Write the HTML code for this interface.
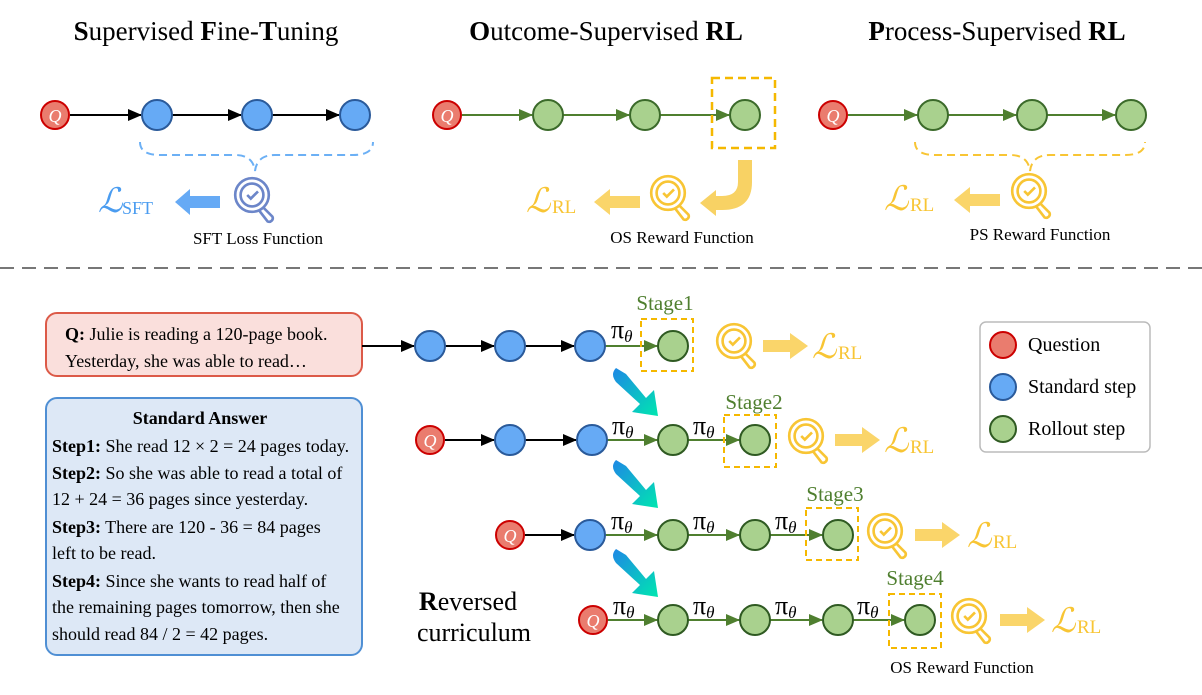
<!DOCTYPE html>
<html><head><meta charset="utf-8"><style>
html,body{margin:0;padding:0;background:#fff}
svg{display:block}
text{font-family:"Liberation Serif",serif}
</style></head><body>
<svg width="1202" height="695" viewBox="0 0 1202 695" xmlns="http://www.w3.org/2000/svg">
<defs>
<marker id="ab" markerWidth="14" markerHeight="12" refX="13" refY="6" orient="auto" markerUnits="userSpaceOnUse"><path d="M0,0 L14,6 L0,12 z" fill="#000"/></marker>
<marker id="ag" markerWidth="14" markerHeight="12" refX="13" refY="6" orient="auto" markerUnits="userSpaceOnUse"><path d="M0,0 L14,6 L0,12 z" fill="#4f7f2f"/></marker>
<linearGradient id="gr" x1="0" y1="0" x2="1" y2="1"><stop offset="0" stop-color="#1e88e5"/><stop offset="1" stop-color="#00e6b0"/></linearGradient>
<g id="magY" fill="none" stroke="#f8c534" stroke-width="2.2" transform="scale(1.2)"><circle cx="0" cy="0" r="14"/><circle cx="0" cy="0" r="9.5"/><path d="M-4,0 L-1,3 L5,-3"/><path d="M9,10 L17,18 a3,3 0 0 1 -4,4 L6,13"/></g>
<g id="magB" fill="none" stroke="#6c86c9" stroke-width="2.2" transform="scale(1.2)"><circle cx="0" cy="0" r="14"/><circle cx="0" cy="0" r="9.5"/><path d="M-4,0 L-1,3 L5,-3"/><path d="M9,10 L17,18 a3,3 0 0 1 -4,4 L6,13"/></g>
<path id="ga" d="M-14,-12 q-6,6 0,14 L10,24 L2,32 L28,36 L24,10 L16,18 L-4,-6 z" fill="url(#gr)"/>
</defs>

<text x="206" y="40" font-size="27" text-anchor="middle"><tspan font-weight="bold">S</tspan>upervised <tspan font-weight="bold">F</tspan>ine-<tspan font-weight="bold">T</tspan>uning</text>
<text x="606" y="40" font-size="27" text-anchor="middle"><tspan font-weight="bold">O</tspan>utcome-Supervised <tspan font-weight="bold">RL</tspan></text>
<text x="997" y="40" font-size="27" text-anchor="middle"><tspan font-weight="bold">P</tspan>rocess-Supervised <tspan font-weight="bold">RL</tspan></text>

<g stroke="#000" stroke-width="2" marker-end="url(#ab)">
<line x1="70" y1="115" x2="141" y2="115"/><line x1="172" y1="115" x2="241" y2="115"/><line x1="272" y1="115" x2="339" y2="115"/>
</g>
<circle cx="55" cy="115" r="14" fill="#ea7c6e" stroke="#cc0000" stroke-width="2"/>
<text x="55" y="122" font-size="18" font-style="italic" fill="#fff" text-anchor="middle">Q</text>
<g fill="#66aaf5" stroke="#2a5a9a" stroke-width="2"><circle cx="157" cy="115" r="15"/><circle cx="257" cy="115" r="15"/><circle cx="355" cy="115" r="15"/></g>
<path d="M140,142 q0,13 20,13 L235,155 q18,0 20,16 q2,-16 20,-16 L353,155 q20,0 20,-13" fill="none" stroke="#6cb0f5" stroke-width="2" stroke-dasharray="8,5"/>
<use href="#magB" x="252" y="195"/>
<path d="M220,196 L190,196 L190,189 L175,202 L190,215 L190,208 L220,208 z" fill="#66aaf5"/>
<text x="98" y="212" font-size="34" font-style="italic" fill="#4a9cf0">ℒ</text><text x="122" y="214" font-size="18" fill="#4a9cf0">SFT</text>
<text x="258" y="244" font-size="17" text-anchor="middle">SFT Loss Function</text>

<g stroke="#4f7f2f" stroke-width="2" marker-end="url(#ag)">
<line x1="462" y1="115" x2="532" y2="115"/><line x1="563" y1="115" x2="629" y2="115"/><line x1="660" y1="115" x2="729" y2="115"/>
</g>
<circle cx="447" cy="115" r="14" fill="#ea7c6e" stroke="#cc0000" stroke-width="2"/>
<text x="447" y="122" font-size="18" font-style="italic" fill="#fff" text-anchor="middle">Q</text>
<g fill="#a9d18e" stroke="#3b6a2a" stroke-width="2"><circle cx="548" cy="115" r="15"/><circle cx="645" cy="115" r="15"/><circle cx="745" cy="115" r="15"/></g>
<rect x="712" y="78" width="63" height="70" fill="none" stroke="#f5b800" stroke-width="2.5" stroke-dasharray="8,5"/>
<path d="M738,160 L752,160 L752,182 Q752,210 722,210 L716,210 L716,216 L700,203 L716,190 L716,196 L722,196 Q738,196 738,182 z" fill="#f8d264"/>
<use href="#magY" x="668" y="193"/>
<path d="M640,196 L610,196 L610,189 L594,202 L610,215 L610,208 L640,208 z" fill="#fad56a"/>
<text x="526" y="212" font-size="34" font-style="italic" fill="#f8c534">ℒ</text><text x="552" y="213" font-size="19" fill="#f8c534">RL</text>
<text x="682" y="243" font-size="17" text-anchor="middle">OS Reward Function</text>

<g stroke="#4f7f2f" stroke-width="2" marker-end="url(#ag)">
<line x1="848" y1="115" x2="917" y2="115"/><line x1="948" y1="115" x2="1016" y2="115"/><line x1="1047" y1="115" x2="1115" y2="115"/>
</g>
<circle cx="833" cy="115" r="14" fill="#ea7c6e" stroke="#cc0000" stroke-width="2"/>
<text x="833" y="122" font-size="18" font-style="italic" fill="#fff" text-anchor="middle">Q</text>
<g fill="#a9d18e" stroke="#3b6a2a" stroke-width="2"><circle cx="933" cy="115" r="15"/><circle cx="1032" cy="115" r="15"/><circle cx="1131" cy="115" r="15"/></g>
<path d="M915,142 q0,13 20,13 L1010,155 q18,0 20,16 q2,-16 20,-16 L1125,155 q20,0 20,-13" fill="none" stroke="#f8c534" stroke-width="2" stroke-dasharray="8,5"/>
<use href="#magY" x="1029" y="191"/>
<path d="M1000,194 L970,194 L970,187 L954,200 L970,213 L970,206 L1000,206 z" fill="#fad56a"/>
<text x="884" y="210" font-size="34" font-style="italic" fill="#f8c534">ℒ</text><text x="910" y="211" font-size="19" fill="#f8c534">RL</text>
<text x="1040" y="240" font-size="17" text-anchor="middle">PS Reward Function</text>

<line x1="0" y1="268" x2="1202" y2="268" stroke="#777" stroke-width="2" stroke-dasharray="14,8"/>

<rect x="46" y="313" width="316" height="63" rx="11" fill="#fadfdc" stroke="#dc5a48" stroke-width="2"/>
<text x="65" y="340" font-size="18"><tspan font-weight="bold">Q:</tspan> Julie is reading a 120-page book.</text>
<text x="65" y="367" font-size="18">Yesterday, she was able to read…</text>

<rect x="46" y="398" width="316" height="257" rx="11" fill="#dde8f6" stroke="#4f8fd4" stroke-width="2"/>
<g font-size="18">
<text x="200" y="424" text-anchor="middle" font-weight="bold">Standard Answer</text>
<text x="52" y="452"><tspan font-weight="bold">Step1:</tspan> She read 12 × 2 = 24 pages today.</text>
<text x="52" y="479"><tspan font-weight="bold">Step2:</tspan> So she was able to read a total of</text>
<text x="52" y="505">12 + 24 = 36 pages since yesterday.</text>
<text x="52" y="533"><tspan font-weight="bold">Step3:</tspan> There are 120 - 36 = 84 pages</text>
<text x="52" y="559">left to be read.</text>
<text x="52" y="587"><tspan font-weight="bold">Step4:</tspan> Since she wants to read half of</text>
<text x="52" y="613">the remaining pages tomorrow, then she</text>
<text x="52" y="640">should read 84 / 2 = 42 pages.</text>
</g>

<text x="468" y="610" font-size="26" text-anchor="middle"><tspan font-weight="bold">R</tspan>eversed</text>
<text x="474" y="641" font-size="26" text-anchor="middle">curriculum</text>

<g stroke="#000" stroke-width="2" marker-end="url(#ab)">
<line x1="362" y1="346" x2="414" y2="346"/><line x1="445" y1="346" x2="494" y2="346"/><line x1="525" y1="346" x2="574" y2="346"/>
</g>
<g stroke="#4f7f2f" stroke-width="2" marker-end="url(#ag)"><line x1="605" y1="346" x2="657" y2="346"/></g>
<g fill="#66aaf5" stroke="#2a5a9a" stroke-width="2"><circle cx="430" cy="346" r="15"/><circle cx="510" cy="346" r="15"/><circle cx="590" cy="346" r="15"/></g>
<circle cx="673" cy="346" r="15" fill="#a9d18e" stroke="#2f5a22" stroke-width="2"/>
<rect x="641" y="319" width="52" height="52" fill="none" stroke="#f5b800" stroke-width="2" stroke-dasharray="6,4"/>
<text x="665" y="310" font-size="21" fill="#4f7f2f" text-anchor="middle">Stage1</text>
<text x="611" y="338" font-size="26">π<tspan font-size="17" font-style="italic" dy="4">θ</tspan></text>
<use href="#magY" x="734" y="341"/>
<path d="M763,340 L790,340 L790,333 L808,346 L790,359 L790,352 L763,352 z" fill="#fad56a"/>
<text x="812" y="358" font-size="34" font-style="italic" fill="#f8c534">ℒ</text><text x="838" y="359" font-size="19" fill="#f8c534">RL</text>

<use href="#ga" x="630" y="380"/>

<g stroke="#000" stroke-width="2" marker-end="url(#ab)">
<line x1="445" y1="440" x2="494" y2="440"/><line x1="525" y1="440" x2="576" y2="440"/>
</g>
<g stroke="#4f7f2f" stroke-width="2" marker-end="url(#ag)"><line x1="607" y1="440" x2="657" y2="440"/><line x1="688" y1="440" x2="739" y2="440"/></g>
<circle cx="430" cy="440" r="14" fill="#ea7c6e" stroke="#cc0000" stroke-width="2"/>
<text x="430" y="447" font-size="18" font-style="italic" fill="#fff" text-anchor="middle">Q</text>
<g fill="#66aaf5" stroke="#2a5a9a" stroke-width="2"><circle cx="510" cy="440" r="15"/><circle cx="592" cy="440" r="15"/></g>
<g fill="#a9d18e" stroke="#2f5a22" stroke-width="2"><circle cx="673" cy="440" r="15"/><circle cx="755" cy="440" r="15"/></g>
<rect x="724" y="415" width="52" height="52" fill="none" stroke="#f5b800" stroke-width="2" stroke-dasharray="6,4"/>
<text x="754" y="409" font-size="21" fill="#4f7f2f" text-anchor="middle">Stage2</text>
<text x="612" y="434" font-size="26">π<tspan font-size="17" font-style="italic" dy="4">θ</tspan></text>
<text x="693" y="434" font-size="26">π<tspan font-size="17" font-style="italic" dy="4">θ</tspan></text>
<use href="#magY" x="806" y="436"/>
<path d="M835,434 L862,434 L862,427 L880,440 L862,453 L862,446 L835,446 z" fill="#fad56a"/>
<text x="884" y="452" font-size="34" font-style="italic" fill="#f8c534">ℒ</text><text x="910" y="453" font-size="19" fill="#f8c534">RL</text>

<use href="#ga" x="630" y="472"/>

<g stroke="#000" stroke-width="2" marker-end="url(#ab)"><line x1="525" y1="535" x2="574" y2="535"/></g>
<g stroke="#4f7f2f" stroke-width="2" marker-end="url(#ag)"><line x1="605" y1="535" x2="657" y2="535"/><line x1="688" y1="535" x2="739" y2="535"/><line x1="770" y1="535" x2="822" y2="535"/></g>
<circle cx="510" cy="535" r="14" fill="#ea7c6e" stroke="#cc0000" stroke-width="2"/>
<text x="510" y="542" font-size="18" font-style="italic" fill="#fff" text-anchor="middle">Q</text>
<circle cx="590" cy="535" r="15" fill="#66aaf5" stroke="#2a5a9a" stroke-width="2"/>
<g fill="#a9d18e" stroke="#2f5a22" stroke-width="2"><circle cx="673" cy="535" r="15"/><circle cx="755" cy="535" r="15"/><circle cx="838" cy="535" r="15"/></g>
<rect x="806" y="508" width="52" height="52" fill="none" stroke="#f5b800" stroke-width="2" stroke-dasharray="6,4"/>
<text x="835" y="501" font-size="21" fill="#4f7f2f" text-anchor="middle">Stage3</text>
<text x="611" y="529" font-size="26">π<tspan font-size="17" font-style="italic" dy="4">θ</tspan></text>
<text x="693" y="529" font-size="26">π<tspan font-size="17" font-style="italic" dy="4">θ</tspan></text>
<text x="775" y="529" font-size="26">π<tspan font-size="17" font-style="italic" dy="4">θ</tspan></text>
<use href="#magY" x="885" y="531"/>
<path d="M915,529 L942,529 L942,522 L960,535 L942,548 L942,541 L915,541 z" fill="#fad56a"/>
<text x="967" y="547" font-size="34" font-style="italic" fill="#f8c534">ℒ</text><text x="993" y="548" font-size="19" fill="#f8c534">RL</text>

<use href="#ga" x="630" y="561"/>

<g stroke="#4f7f2f" stroke-width="2" marker-end="url(#ag)"><line x1="608" y1="620" x2="657" y2="620"/><line x1="688" y1="620" x2="739" y2="620"/><line x1="770" y1="620" x2="822" y2="620"/><line x1="853" y1="620" x2="904" y2="620"/></g>
<circle cx="593" cy="620" r="14" fill="#ea7c6e" stroke="#cc0000" stroke-width="2"/>
<text x="593" y="627" font-size="18" font-style="italic" fill="#fff" text-anchor="middle">Q</text>
<g fill="#a9d18e" stroke="#2f5a22" stroke-width="2"><circle cx="673" cy="620" r="15"/><circle cx="755" cy="620" r="15"/><circle cx="838" cy="620" r="15"/><circle cx="920" cy="620" r="15"/></g>
<rect x="889" y="594" width="52" height="54" fill="none" stroke="#f5b800" stroke-width="2" stroke-dasharray="6,4"/>
<text x="915" y="585" font-size="21" fill="#4f7f2f" text-anchor="middle">Stage4</text>
<text x="613" y="614" font-size="26">π<tspan font-size="17" font-style="italic" dy="4">θ</tspan></text>
<text x="693" y="614" font-size="26">π<tspan font-size="17" font-style="italic" dy="4">θ</tspan></text>
<text x="775" y="614" font-size="26">π<tspan font-size="17" font-style="italic" dy="4">θ</tspan></text>
<text x="857" y="614" font-size="26">π<tspan font-size="17" font-style="italic" dy="4">θ</tspan></text>
<use href="#magY" x="969" y="616"/>
<path d="M1000,614 L1027,614 L1027,607 L1045,620 L1027,633 L1027,626 L1000,626 z" fill="#fad56a"/>
<text x="1051" y="632" font-size="34" font-style="italic" fill="#f8c534">ℒ</text><text x="1077" y="633" font-size="19" fill="#f8c534">RL</text>
<text x="962" y="673" font-size="17" text-anchor="middle">OS Reward Function</text>

<rect x="980" y="322" width="170" height="130" rx="6" fill="#fff" stroke="#bbb" stroke-width="1.5"/>
<circle cx="1003" cy="345" r="13" fill="#ea7c6e" stroke="#cc0000" stroke-width="2"/>
<circle cx="1003" cy="387" r="13" fill="#66aaf5" stroke="#2a5a9a" stroke-width="2"/>
<circle cx="1003" cy="429" r="13" fill="#a9d18e" stroke="#2f5a22" stroke-width="2"/>
<text x="1028" y="351" font-size="20">Question</text>
<text x="1028" y="393" font-size="20">Standard step</text>
<text x="1028" y="435" font-size="20">Rollout step</text>
</svg>
</body></html>
